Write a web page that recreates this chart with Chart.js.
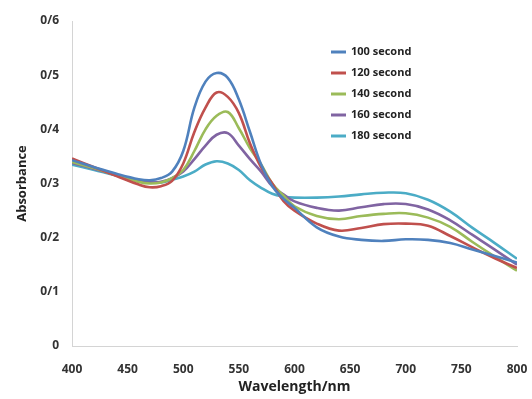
<!DOCTYPE html>
<html>
<head>
<meta charset="utf-8">
<script src="https://cdn.jsdelivr.net/npm/chart.js@4/dist/chart.umd.min.js"></script>
<style>
  html, body { margin: 0; padding: 0; background: #fff; }
  #wrap { width: 532px; height: 399px; position: relative; }
</style>
</head>
<body>
<div id="wrap"><canvas id="spectraChart" width="532" height="399"></canvas></div>
<script>
// wavelengths (nm) and absorbance
const wavelengths = [400, 420, 440, 460, 470, 480, 490, 500, 510, 520, 530, 540, 550, 560, 570, 580, 590, 600, 620, 640, 660, 680, 700, 720, 740, 760, 780, 800];

const abs100 = [0.343, 0.330, 0.318, 0.308, 0.306, 0.310, 0.322, 0.360, 0.440, 0.488, 0.504, 0.495, 0.455, 0.395, 0.335, 0.295, 0.272, 0.255, 0.219, 0.202, 0.196, 0.194, 0.197, 0.196, 0.190, 0.178, 0.166, 0.154];
const abs120 = [0.346, 0.330, 0.314, 0.298, 0.293, 0.295, 0.305, 0.337, 0.395, 0.440, 0.468, 0.460, 0.430, 0.374, 0.330, 0.300, 0.268, 0.250, 0.226, 0.213, 0.218, 0.225, 0.226, 0.222, 0.203, 0.182, 0.162, 0.144];
const abs140 = [0.340, 0.328, 0.315, 0.303, 0.300, 0.302, 0.310, 0.325, 0.360, 0.400, 0.425, 0.432, 0.402, 0.365, 0.335, 0.300, 0.278, 0.258, 0.240, 0.234, 0.240, 0.244, 0.245, 0.237, 0.220, 0.192, 0.165, 0.139];
const abs160 = [0.338, 0.327, 0.315, 0.305, 0.302, 0.303, 0.310, 0.322, 0.345, 0.370, 0.390, 0.393, 0.370, 0.345, 0.322, 0.295, 0.280, 0.267, 0.255, 0.250, 0.256, 0.262, 0.262, 0.252, 0.232, 0.205, 0.178, 0.150];
const abs180 = [0.335, 0.325, 0.315, 0.306, 0.303, 0.302, 0.307, 0.313, 0.322, 0.335, 0.341, 0.337, 0.325, 0.306, 0.292, 0.281, 0.276, 0.274, 0.274, 0.276, 0.280, 0.283, 0.282, 0.270, 0.248, 0.218, 0.190, 0.161];

const seriesNames = ['100 second', '120 second', '140 second', '160 second', '180 second'];
const seriesColors = ['#4F81BD', '#C0504D', '#9BBB59', '#8064A2', '#4BACC6'];

const xTicks = [400, 450, 500, 550, 600, 650, 700, 750, 800];
const yTickLabels = ['0', '0/1', '0/2', '0/3', '0/4', '0/5', '0/6'];

const allSeries = [abs100, abs120, abs140, abs160, abs180];

const datasets = allSeries.map((vals, i) => ({
    label: seriesNames[i],
    data: wavelengths.map((w, j) => ({ x: w, y: vals[j] })),
    borderColor: seriesColors[i],
    backgroundColor: seriesColors[i],
    borderWidth: 2.6,
    pointRadius: 0,
    tension: 0.4,
    fill: false
}));

// legend drawn inside the plot, top right like the original
const insideLegend = {
    id: 'insideLegend',
    afterDraw(chart) {
        const ctx = chart.ctx;
        ctx.save();
        ctx.font = 'bold 11px "Open Sans", sans-serif';
        ctx.textBaseline = 'middle';
        chart.data.datasets.forEach((ds, i) => {
            const y = 52 + i * 21;
            ctx.strokeStyle = ds.borderColor;
            ctx.lineWidth = 3;
            ctx.beginPath();
            ctx.moveTo(331, y);
            ctx.lineTo(346, y);
            ctx.stroke();
            ctx.fillStyle = '#222';
            ctx.fillText(ds.label, 351, y);
        });
        ctx.restore();
    }
};

new Chart(document.getElementById('spectraChart').getContext('2d'), {
    type: 'line',
    data: { datasets: datasets },
    options: {
        responsive: false,
        animation: false,
        layout: { padding: { top: 21, right: 15, left: 10, bottom: 0 } },
        plugins: {
            legend: { display: false },
            tooltip: { enabled: false }
        },
        scales: {
            x: {
                type: 'linear',
                min: 400,
                max: 800,
                afterBuildTicks: s => { s.ticks = xTicks.map(v => ({ value: v })); },
                afterFit: s => { s.height = 53; s.paddingRight = 0; },
                grid: { display: false, drawTicks: false },
                border: { display: true, color: '#d4d4d4', width: 1 },
                ticks: {
                    color: '#333',
                    padding: 16,
                    font: { family: '"Open Sans", sans-serif', size: 12, weight: 'bold' }
                },
                title: {
                    display: true,
                    text: 'Wavelength/nm',
                    color: '#222',
                    padding: { top: 2 },
                    font: { family: '"Open Sans", sans-serif', size: 14, weight: 'bold' }
                }
            },
            y: {
                min: 0,
                max: 0.6,
                afterFit: s => { s.width = 62; },
                grid: { display: false, drawTicks: false },
                border: { display: true, color: '#d4d4d4', width: 1 },
                ticks: {
                    stepSize: 0.1,
                    color: '#333',
                    padding: 13,
                    font: { family: '"Open Sans", sans-serif', size: 12, weight: 'bold' },
                    callback: (v) => yTickLabels[Math.round(v * 10)]
                },
                title: {
                    display: true,
                    text: 'Absorbance',
                    color: '#222',
                    padding: { bottom: 4 },
                    font: { family: '"Open Sans", sans-serif', size: 13, weight: 'bold' }
                }
            }
        }
    },
    plugins: [insideLegend]
});
</script>
</body>
</html>
